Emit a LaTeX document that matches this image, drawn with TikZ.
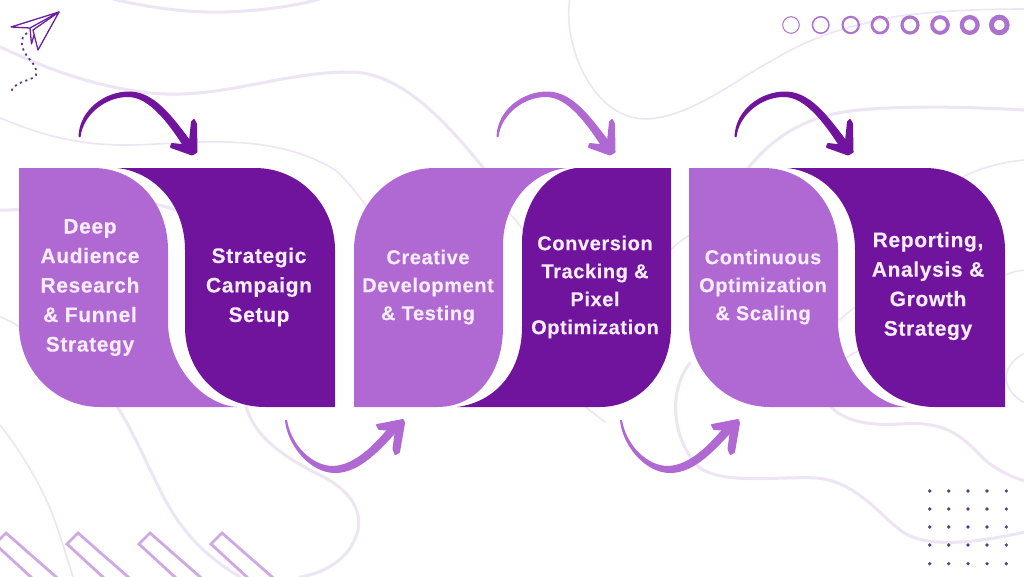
\documentclass[tikz,border=0pt]{standalone}
\usepackage{fontspec}
\setmainfont[LetterSpace=3,BoldFeatures={FakeBold=0.25}]{Liberation Sans}
\definecolor{lightp}{HTML}{B069D3}
\definecolor{darkp}{HTML}{70149E}
\definecolor{pale}{HTML}{EDE4F4}
\definecolor{barc}{HTML}{CFA9E4}
\definecolor{ringc}{HTML}{AC72CE}
\definecolor{dotc}{HTML}{5E3A80}
\definecolor{planec}{HTML}{6A1FA0}
\definecolor{txtc}{HTML}{F6ECFB}
\tikzset{
  bgthick/.style={draw=pale,line width=3pt,line cap=round},
  bgthin/.style={draw=pale,line width=1.6pt,line cap=round},
  lightshape/.style={fill=lightp},
  darkshape/.style={fill=darkp},
  bar/.style={draw=barc,line width=2.8pt,line join=miter},
  ring/.style={draw=ringc},
  label20/.style={text=txtc,align=center,font=\bfseries\fontsize{21}{29.5}\selectfont,inner sep=0pt},
  label19/.style={text=txtc,align=center,font=\bfseries\fontsize{20}{28}\selectfont,inner sep=0pt},
}
\newcommand{\toparrow}[2]{%
\begin{scope}[shift={(#1,0)}]
\fill[#2] (78.5,137) .. controls (79,110) and (105,91) .. (130,91.5) .. controls (157,92) and (176,122) .. (196,148) -- (187,152) .. controls (170,125) and (150,97) .. (128,97) .. controls (105,97) and (83,115) .. (80.5,137) -- cycle;
\filldraw[#2,line width=2pt,line join=round] (192,122) -- (194,120) -- (196,124) -- (196.5,152) -- (192,154.5) -- (171,147) -- (172,144) -- (189.5,146) -- cycle;
\end{scope}}
\newcommand{\botarrow}[2]{%
\begin{scope}[shift={(#1,0)}]
\fill[#2] (285,420) .. controls (287,445) and (310,473) .. (335,473) .. controls (360,473) and (380,450) .. (402,426) -- (394,421) .. controls (375,445) and (355,465) .. (333,466) .. controls (312,466) and (291,445) .. (287,420) -- cycle;
\filldraw[#2,line width=2pt,line join=round] (377,425) -- (403,420) -- (404,423) -- (399,452) -- (395.5,454) -- (393.5,449) -- (396,430) -- (379,429) -- cycle;
\end{scope}}
\begin{document}
\begin{tikzpicture}[x=1pt,y=-1pt]
\useasboundingbox (0,0) rectangle (1024,576);
\clip (0,0) rectangle (1024,576);
\fill[white] (0,0) rectangle (1024,576);

% background lines
\draw[bgthick] (113,-1) .. controls (150,8) and (190,13) .. (225,12) .. controls (260,11) and (295,6) .. (320,-1);
\draw[bgthick] (0,47) .. controls (30,60) and (80,85) .. (150,93) .. controls (220,100) and (280,72) .. (350,72) .. controls (400,72) and (445,120) .. (485,170);
\draw[bgthin] (0,118) .. controls (30,130) and (70,146) .. (130,145) .. controls (190,144) and (270,130) .. (335,170) .. controls (350,182) and (365,205) .. (380,225);
\draw[bgthin] (570,-1) .. controls (562,40) and (590,118) .. (645,119) .. controls (690,118) and (735,80) .. (773,60) .. controls (810,38) and (840,28) .. (893,17) .. controls (940,10) and (990,9) .. (1025,9);
\draw[bgthick] (745,172) .. controls (770,140) and (800,118) .. (850,111) .. controls (900,105) and (970,107) .. (1025,110);
\draw[bgthin] (950,185) .. controls (970,170) and (1000,162) .. (1025,160);
\draw[bgthick] (0,210) .. controls (50,212) and (100,180) .. (190,215);
\draw[bgthin] (505,210) .. controls (512,215) and (520,225) .. (530,240);
\draw[bgthin] (1000,278) .. controls (1008,273) and (1015,271) .. (1025,270);
\draw[bgthin] (0,317) .. controls (8,320) and (14,323) .. (25,330);
\draw[bgthin] (1025,353) .. controls (1000,365) and (1000,390) .. (1025,403);
\draw[bgthin] (660,260) .. controls (670,250) and (680,240) .. (695,232);
\draw[bgthin] (840,320) .. controls (845,315) and (850,310) .. (860,304);
\draw[bgthin] (840,363) .. controls (845,358) and (850,355) .. (860,350);
\draw[bgthin] (0,425) .. controls (20,450) and (45,490) .. (57,527) .. controls (63,545) and (68,560) .. (73,577);
\draw[bgthick] (113,400) .. controls (130,425) and (145,460) .. (160,490) .. controls (175,520) and (195,550) .. (240,577);
\draw[bgthick] (245,400) .. controls (250,435) and (285,458) .. (320,475) .. controls (350,490) and (362,510) .. (358,530) .. controls (352,555) and (330,572) .. (300,577);
\draw[bgthick] (690,363) .. controls (665,395) and (675,445) .. (700,468) .. controls (725,485) and (780,476) .. (817,478) .. controls (855,482) and (875,510) .. (900,530) .. controls (925,550) and (980,542) .. (1025,532);
\draw[bgthick] (825,400) .. controls (840,422) and (870,426) .. (900,424) .. controls (950,420) and (965,440) .. (985,460) .. controls (1000,472) and (1012,477) .. (1025,481);
\draw[bgthin] (583,405) -- (605,422);

% bars
\foreach \dx in {-72,0,72,144}{
  \draw[bar] (78+\dx,533) -- (67+\dx,544) -- (117+\dx,590) -- (143+\dx,590) -- cycle;
}

% rings
\foreach \cx/\w/\rr in {791/1/8.8,820.7/1.5/9,850.7/2.1/9.2,880/2.7/9.4,910/3.2/9.6,940/3.8/9.8,969.7/4.3/10,999.3/5/10.3}{
  \draw[ring,line width=\w pt] (\cx,25) circle ({\rr-\w/2});
}

% dots
\foreach \px in {929.7,948.7,968,987,1006.3}{
  \foreach \py in {491,509,527,545,563.7}{
    \fill[dotc] (\px,\py) circle (1.8);
  }
}

% paper plane
\draw[planec,line width=1.3pt,line join=round] (59,12) -- (11,27) -- (30,28) -- cycle;
\draw[planec,line width=1.3pt,line join=round] (59,12) -- (38,50) -- (33,30) -- cycle;
\draw[planec,line width=1.3pt,line join=round] (30,28) -- (31.5,44) -- (34,35);
\draw[dotc,line width=1.8pt,dash pattern=on 2.2pt off 3.6pt] (27,33) .. controls (19,38) and (22,48) .. (25,53) .. controls (29,60) and (38,66) .. (36,75) .. controls (33,80) and (24,80) .. (18,84) .. controls (13,87) and (11,90) .. (11,94);

% arrows
\toparrow{0}{darkp}
\toparrow{418}{lightp}
\toparrow{656}{darkp}
\botarrow{0}{lightp}
\botarrow{335}{lightp}

% pair 1
\fill[lightshape] (19,168) -- (93,168) .. controls (138,168) and (168,205) .. (168,250) -- (168,325) .. controls (170,370) and (205,405) .. (237,407) -- (100,407) .. controls (55,407) and (19,370) .. (19,325) -- cycle;
\fill[darkshape] (117,168) .. controls (155,172) and (185,205) .. (185,250) -- (185,327) .. controls (185,372) and (220,407) .. (265,407) -- (335,407) -- (335,250) .. controls (335,205) and (300,168) .. (255,168) -- cycle;
% pair 2
\fill[lightshape] (354,407) -- (354,250) .. controls (354,205) and (390,168) .. (435,168) -- (567,168) .. controls (530,172) and (503,205) .. (503,245) -- (503,327) .. controls (503,372) and (478,407) .. (437,407) -- cycle;
\fill[darkshape] (671,168) -- (671,327) .. controls (671,372) and (640,407) .. (600,407) -- (457,407) .. controls (495,402) and (522,372) .. (522,327) -- (522,243) .. controls (522,205) and (545,172) .. (576,168) -- cycle;
% pair 3
\begin{scope}[shift={(670,0)}]
\fill[lightshape] (19,168) -- (93,168) .. controls (138,168) and (168,205) .. (168,250) -- (168,325) .. controls (170,370) and (205,405) .. (237,407) -- (100,407) .. controls (55,407) and (19,370) .. (19,325) -- cycle;
\fill[darkshape] (117,168) .. controls (155,172) and (185,205) .. (185,250) -- (185,327) .. controls (185,372) and (220,407) .. (265,407) -- (335,407) -- (335,250) .. controls (335,205) and (300,168) .. (255,168) -- cycle;
\end{scope}

% labels
\node[label20] (s1) at (90,287.5) {Deep\\Audience\\Research\\\& Funnel\\Strategy};
\node[label20] (s2) at (259,287) {Strategic\\Campaign\\Setup};
\node[label19] (s3) at (428,287) {Creative\\Development\\\& Testing};
\node[label19] (s4) at (595,287) {Conversion\\Tracking \&\\Pixel\\Optimization};
\node[label19] (s5) at (763,287) {Continuous\\Optimization\\\& Scaling};
\node[label20] (s6) at (928,286) {Reporting,\\Analysis \&\\Growth\\Strategy};
\end{tikzpicture}
\end{document}
